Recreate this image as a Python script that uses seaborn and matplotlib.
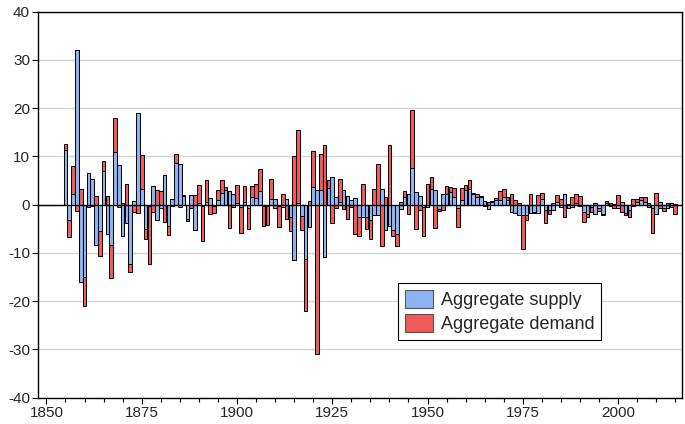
import matplotlib
matplotlib.use("Agg")
import pandas as pd
import matplotlib.pyplot as plt
import seaborn as sns
from matplotlib.patches import Patch
from matplotlib.ticker import MultipleLocator

# historical decomposition, one value per year (1855-2015)
years = list(range(1855, 2016))
supply = [
    11.4, -3.2, 2.2, 32.0, -16.1,
    -15.0, 6.5, 5.4, -8.4, -5.4, 6.9, -6.0, -8.4, 11.0, 8.2,
    -6.5, -3.9, -12.2, 0.8, 19.0, 3.3, -5.0, -0.2, 3.8, -3.2,
    -0.8, 6.1, -4.4, 1.1, 8.6, 8.5, 1.7, -3.0, 2.0, -5.3,
    0.3, -0.3, 0.5, 1.4, -0.3, 0.9, 2.4, 3.1, 2.8, 2.1,
    0.3, -0.4, 0.5, -0.7, 1.6, 1.4, 2.8, -0.3, -0.3, 1.2,
    1.1, -0.3, -0.4, 1.1, -2.6, -11.5, 0.3, -2.4, -11.2, -4.7,
    3.7, 3.0, 3.0, -10.8, 3.5, 5.7, 1.5, 0.5, 3.0, 1.7,
    0.9, 1.4, -2.5, -2.6, -2.6, -3.2, -2.2, -2.2, 3.3, -5.3,
    -4.5, -5.2, -6.0, -1.0, 1.6, 2.1, 7.6, 2.6, 1.7, -0.5,
    -0.5, 3.3, 3.1, -1.0, 2.3, 2.3, 2.6, 1.6, -0.8, 1.0,
    3.1, 3.3, 2.1, 1.6, 1.6, 0.7, -1.0, 0.5, 1.0, 1.0,
    1.6, 1.0, -1.5, -1.7, -2.2, -2.2, -2.2, -1.8, -1.5, -1.8,
    1.2, -1.2, -1.2, -1.2, 0.6, -0.5, 2.1, -0.8, -0.5, 0.3,
    -0.3, -1.5, -1.9, -0.5, -1.9, -0.8, -1.9, 0.3, -0.3, 0.2,
    -0.6, 0.5, -1.7, -1.2, -0.3, 0.6, 1.0, 0.6, -0.5, -0.6,
    -1.9, 0.5, -0.8, -0.8, 0.4, 0.2,
]
demand = [
    1.2, -3.6, 5.9, -1.4, 3.2,
    -6.1, -0.5, -0.3, 1.8, -5.2, 2.2, 1.8, -6.8, 6.9, -0.4,
    0.3, 4.3, -1.8, -1.5, -1.7, 7.0, -2.2, -12.0, -1.5, 3.1,
    2.8, -3.7, -1.9, -0.3, 1.8, -0.4, 0.2, -0.4, -0.8, 2.0,
    3.7, -7.2, 4.6, -2.0, -1.4, 2.2, 2.8, 0.5, -4.8, -0.5,
    3.8, -5.5, 3.3, -4.4, 2.2, 2.8, 4.6, -4.1, -3.9, 4.1,
    -0.8, -4.3, 2.3, -2.9, -2.8, 10.1, 15.2, -2.9, -10.8, 0.8,
    7.4, -31.0, 7.4, 12.3, 1.5, -3.9, -0.8, 4.8, -1.0, -2.9,
    -0.4, -6.0, -4.0, 4.2, -2.5, -4.0, 3.3, 8.5, -8.5, 1.6,
    12.4, -1.4, -2.6, 0.5, 1.2, -1.9, 12.1, -5.0, -1.2, -6.0,
    4.3, 2.4, -4.8, -0.4, -1.2, 1.5, 1.0, 1.9, -3.8, 2.4,
    0.9, 1.9, 0.3, 0.5, 0.2, -0.3, 0.5, 0.2, 0.3, 1.8,
    1.7, 0.5, 2.1, 1.0, 0.3, -6.9, -1.0, 2.2, -0.3, 2.0,
    1.2, -2.7, -0.7, 0.3, 1.4, 1.2, -2.5, 0.2, 1.6, 1.8,
    1.7, -2.1, -0.7, -1.1, 0.3, -0.6, -0.3, 0.5, 0.4, -0.8,
    1.9, -1.5, -0.5, -1.4, 1.2, 0.5, 0.6, 1.0, 0.3, -5.2,
    2.5, -0.8, -0.6, 0.3, -0.5, -1.9,
]
labels = ["Aggregate supply", "Aggregate demand"]

blue = "#8db4f2"
red = "#f25a5a"

sns.set_theme(style="ticks")
plt.rcParams["font.family"] = ["Liberation Sans", "DejaVu Sans"]
plt.rcParams["axes.unicode_minus"] = False

df = pd.DataFrame({"year": years, "supply": supply, "demand": demand})
# positives stack upward from zero, negatives stack downward
df["up_total"] = df["supply"].clip(lower=0) + df["demand"].clip(lower=0)
df["up_s"] = df["supply"].clip(lower=0)
df["down_total"] = df["supply"].clip(upper=0) + df["demand"].clip(upper=0)
df["down_s"] = df["supply"].clip(upper=0)

fig = plt.figure(figsize=(6.85, 4.24), dpi=100)
ax = fig.add_axes([0.0561, 0.062, 0.9396, 0.9108])

for col, c in [("up_total", red), ("up_s", blue), ("down_total", red), ("down_s", blue)]:
    sns.barplot(data=df, x="year", y=col, native_scale=True, color=c,
                saturation=1, width=0.95, edgecolor="black", linewidth=0.7,
                errorbar=None, ax=ax)

ax.axhline(0, color="black", lw=1.0, zorder=5)
ax.set_ylim(-40, 40)
ax.set_yticks(range(-40, 41, 10))
ax.set_xlim(1847.9, 2016.8)
ax.xaxis.set_major_locator(MultipleLocator(25))
ax.xaxis.set_minor_locator(MultipleLocator(5))
ax.yaxis.grid(True, color="#d4d4d4", lw=1)
ax.set_axisbelow(True)
ax.set_xlabel("")
ax.set_ylabel("")
ax.tick_params(which="both", direction="out", color="black", width=0.8)
ax.tick_params(which="major", length=4, labelsize=11, pad=2)
ax.tick_params(which="minor", length=3)
for sp in ax.spines.values():
    sp.set_visible(True)
    sp.set_color("black")
    sp.set_linewidth(1.0)

handles = [Patch(facecolor=blue, edgecolor="#555555", lw=0.8),
           Patch(facecolor=red, edgecolor="#555555", lw=0.8)]
leg = ax.legend(handles, labels, loc="lower left", bbox_to_anchor=(0.559, 0.149),
                frameon=True, fancybox=False, framealpha=1, edgecolor="black",
                fontsize=13, handlelength=1.5, handleheight=1.2, borderpad=0.4,
                labelspacing=0.25, handletextpad=0.45, borderaxespad=0)
leg.get_frame().set_linewidth(0.8)

fig.savefig("out.png", dpi=100)
